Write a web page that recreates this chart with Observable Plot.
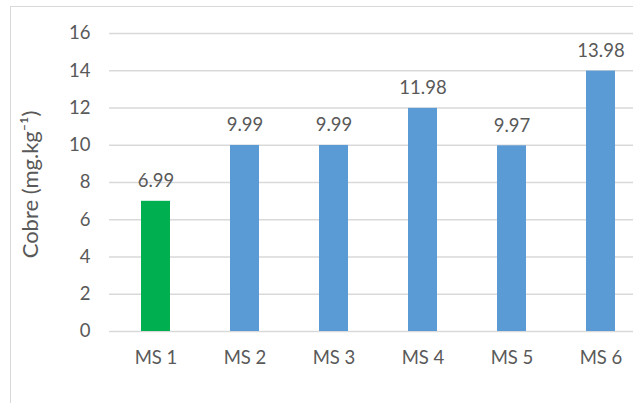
<!DOCTYPE html>
<html><head><meta charset="utf-8">
<script src="https://cdn.jsdelivr.net/npm/d3@7"></script>
<script src="https://cdn.jsdelivr.net/npm/@observablehq/plot@0.6"></script>
<style>
html,body{margin:0;padding:0;background:#fff;}
#wrap{position:relative;width:633px;height:403px;overflow:hidden;}
#frame{position:absolute;left:10px;top:6px;width:700px;height:500px;border:1.5px solid #d9d9d9;box-sizing:border-box;}
#chart{position:absolute;left:0;top:0;}
</style></head>
<body><div id="wrap"><div id="frame"></div><div id="chart"></div></div>
<script>
const categories = ["MS 1","MS 2","MS 3","MS 4","MS 5","MS 6"];
const values = [6.99, 9.99, 9.99, 11.98, 9.97, 13.98];
const barColors = ["#00B050","#5B9BD5","#5B9BD5","#5B9BD5","#5B9BD5","#5B9BD5"];
const yTicks = [0,2,4,6,8,10,12,14,16];
const xTitle = "Muestras de suelos";
const yTitle = "Cobre (mg.kg⁻¹)";

const data = categories.map((c,i)=>({cat:c, v:values[i], color:barColors[i]}));
const font = "Lato, 'Open Sans', sans-serif";
const txt = "#595959";
const fs = 18.5;

const chart = Plot.plot({
  width: 633, height: 403,
  marginLeft: 109, marginRight: 0, marginTop: 33, marginBottom: 72,
  style: {fontFamily: font, fontSize: fs + "px", color: txt, background: "transparent"},
  x: {domain: categories, range: [109, 646], paddingInner: 0.675, paddingOuter: 0.3375, align: 0.5, label: null},
  y: {domain: [0,16], range: [331, 33], label: null},
  marks: [
    Plot.gridY(yTicks, {stroke: "#d9d9d9", strokeOpacity: 1, strokeWidth: 1.5}),
    Plot.barY(data, {x: "cat", y: "v", fill: "color"}),
    Plot.text(data, {x: "cat", y: "v", text: d => d.v.toFixed(2), dy: -20, fill: txt, fontSize: fs}),
    Plot.axisY({ticks: yTicks, tickSize: 0, tickPadding: 19, fontSize: fs, fill: txt, label: null}),
    Plot.axisX({tickSize: 0, tickPadding: 19, fontSize: fs, fill: txt, label: null}),
    Plot.text([xTitle], {frameAnchor: "bottom", x: 378, dy: 61, fontSize: 21.5, fill: txt}),
    Plot.text([yTitle], {frameAnchor: "left", textAnchor: "middle", dx: -79, dy: 2, rotate: -90, fontSize: 22, fill: txt})
  ]
});
document.getElementById("chart").appendChild(chart);
</script></body></html>
